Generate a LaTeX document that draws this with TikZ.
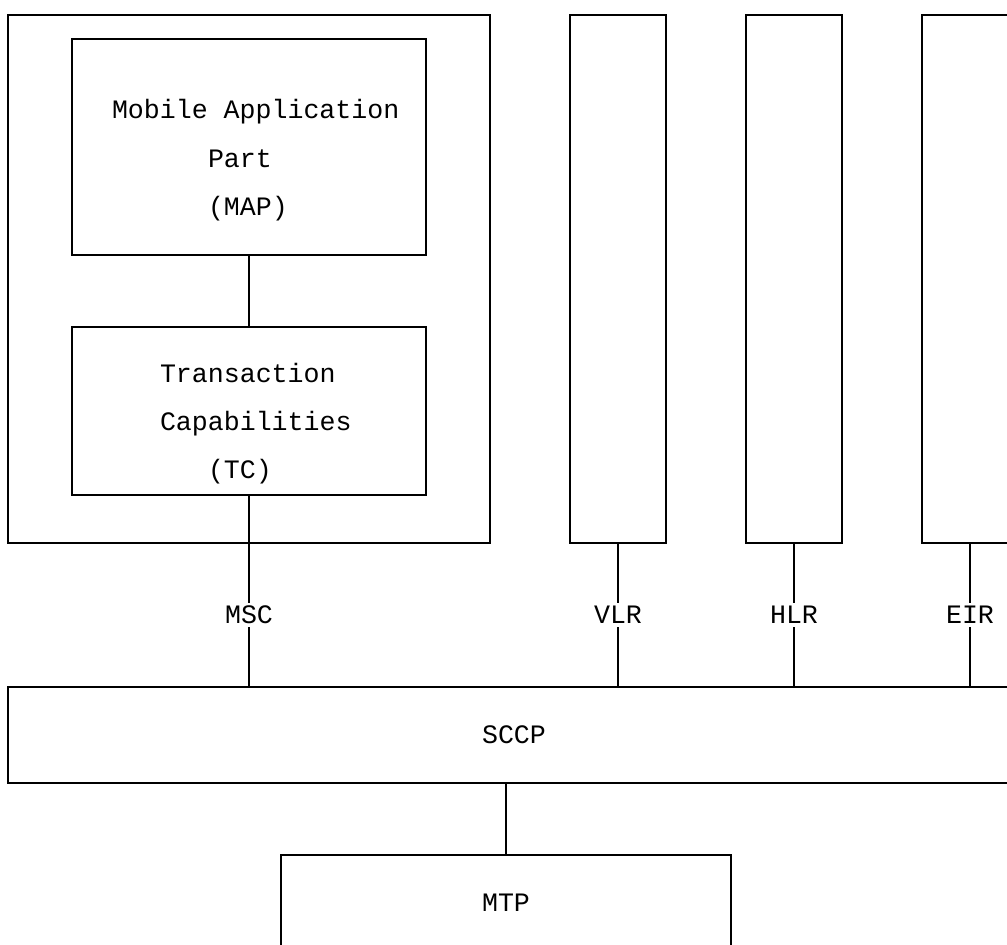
\documentclass[tikz,border=0pt]{standalone}
\usepackage{fontspec}
\setmonofont{Liberation Mono}
\newcommand{\asciisize}{\fontsize{13.3}{16}\selectfont}
\tikzstyle{every node}=[font=\ttfamily\asciisize, inner sep=0, outer sep=0]
\tikzstyle{lbl}=[fill=white, inner sep=1.5pt]
\tikzset{blk/.style 2 args={draw, line width=1pt, minimum width=#1*0.5pt, minimum height=#2*0.5pt}}

\begin{document}
\begin{tikzpicture}[x=0.5pt, y=-0.5pt, line width=1pt]
    \useasboundingbox (0,0) rectangle (1007,944);
    \clip (0,0) rectangle (1007,944);
    \node[blk={482}{528}] (msc) at (249, 279) {};
    \node[blk={354}{216}] (map) at (249, 147) {};
    \node[blk={354}{168}] (tc) at (249, 411) {};
    \node[blk={96}{528}] (vlr) at (618, 279) {};
    \node[blk={96}{528}] (hlr) at (794, 279) {};
    \node[blk={96}{528}] (eir) at (970, 279) {};
    \node[blk={1012}{96}] (sccp) at (514, 735) {SCCP};
    \node[blk={450}{96}] (mtp) at (506, 903) {MTP};
    \node[anchor=base west] (map1) at (112, 118) {Mobile Application};
    \node[anchor=base west] (map2) at (208, 167) {Part};
    \node[anchor=base west] (map3) at (208, 215) {(MAP)};
    \node[anchor=base west] (tc1) at (160, 382) {Transaction};
    \node[anchor=base west] (tc2) at (160, 430) {Capabilities};
    \node[anchor=base west] (tc3) at (208, 478) {(TC)};
    \draw (map.south) -- (tc.north);
    \draw (tc.south) -- (tc.south |- msc.south) -- node[lbl] (msclbl) {MSC} (tc.south |- sccp.north);
    \draw (vlr.south) -- node[lbl] (vlrlbl) {VLR} (vlr.south |- sccp.north);
    \draw (hlr.south) -- node[lbl] (hlrlbl) {HLR} (hlr.south |- sccp.north);
    \draw (eir.south) -- node[lbl] (eirlbl) {EIR} (eir.south |- sccp.north);
    \draw (mtp.north |- sccp.south) -- (mtp.north);
\end{tikzpicture}
\end{document}
